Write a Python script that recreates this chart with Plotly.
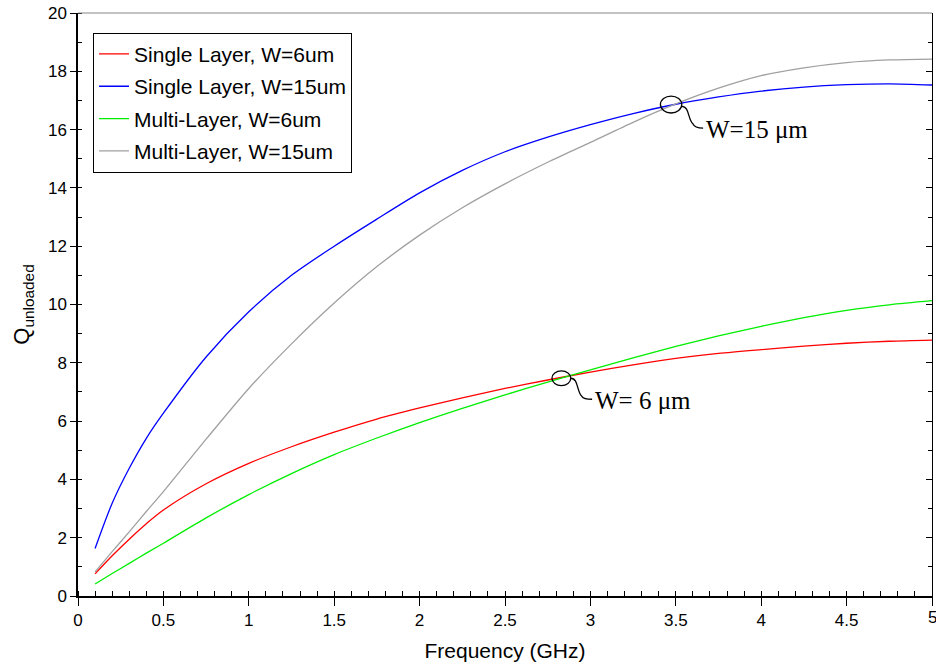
import plotly.graph_objects as go

freq = [0.1, 0.2, 0.3, 0.4, 0.5, 0.75, 1.0, 1.25, 1.5, 1.75, 2.0, 2.25, 2.5, 2.75, 3.0,
        3.25, 3.5, 3.75, 4.0, 4.25, 4.5, 4.75, 5.0]
single_6 = [0.76, 1.38, 1.95, 2.48, 2.95, 3.85, 4.55, 5.12, 5.62, 6.07, 6.45, 6.8, 7.12, 7.41, 7.68,
            7.93, 8.15, 8.32, 8.45, 8.57, 8.67, 8.74, 8.78]
single_15 = [1.63, 3.18, 4.38, 5.41, 6.27, 8.2, 9.75, 11.0, 12.0, 12.93, 13.83, 14.6, 15.24, 15.74, 16.17,
             16.55, 16.87, 17.12, 17.32, 17.46, 17.54, 17.57, 17.53]
multi_6 = [0.41, 0.77, 1.12, 1.47, 1.81, 2.68, 3.48, 4.2, 4.85, 5.42, 5.95, 6.44, 6.9, 7.34, 7.76,
           8.17, 8.56, 8.92, 9.25, 9.55, 9.8, 9.99, 10.13]
multi_15 = [0.83, 1.52, 2.2, 2.9, 3.58, 5.38, 7.12, 8.65, 10.05, 11.3, 12.38, 13.32, 14.14, 14.88, 15.56,
            16.25, 16.88, 17.42, 17.85, 18.12, 18.3, 18.39, 18.42]

names = ["Single Layer, W=6um", "Single Layer, W=15um", "Multi-Layer, W=6um", "Multi-Layer, W=15um"]
series = [single_6, single_15, multi_6, multi_15]
colors = ["#ff0000", "#0000ff", "#00ee00", "#a0a0a0"]

x_ticks = [0, 0.5, 1, 1.5, 2, 2.5, 3, 3.5, 4, 4.5]
x_ticklabels = ["0", "0.5", "1", "1.5", "2", "2.5", "3", "3.5", "4", "4.5"]
x_last_tick = 5
y_ticks = [0, 2, 4, 6, 8, 10, 12, 14, 16, 18, 20]

fig = go.Figure()
for i, (n, s, c) in enumerate(zip(names, series, colors)):
    fig.add_trace(go.Scatter(x=freq, y=s, name=n, mode="lines",
                             line=dict(color=c, width=1.3, shape="spline", smoothing=0.8),
                             legendgroup=f"g{i}"))

font = "Liberation Sans, Arial, sans-serif"
fig.update_layout(
    width=936, height=667,
    margin=dict(l=78, r=4, t=13, b=71),
    paper_bgcolor="white", plot_bgcolor="white",
    showlegend=True,
    legend=dict(x=0.0176, y=0.966, xanchor="left", yanchor="top",
                bordercolor="black", borderwidth=1, bgcolor="white",
                font=dict(family=font, size=21, color="black"),
                tracegroupgap=2, itemwidth=30),
    xaxis=dict(range=[0, 5], tickvals=x_ticks + [x_last_tick], ticktext=x_ticklabels + [""],
               showgrid=False, zeroline=False, showline=True, linecolor="black", linewidth=1.5,
               ticks="outside", ticklen=8, tickcolor="black",
               minor=dict(dtick=0.1, ticks="inside", ticklen=5, tickcolor="black", showgrid=False),
               tickfont=dict(family=font, size=17, color="black"),
               title=dict(text="Frequency (GHz)", font=dict(family=font, size=21, color="black"), standoff=14)),
    yaxis=dict(range=[0, 20], tickvals=y_ticks,
               showgrid=False, zeroline=False, showline=True, linecolor="black", linewidth=1.5,
               ticks="outside", ticklen=6, tickcolor="black",
               minor=dict(dtick=1, ticks="inside", ticklen=4, tickcolor="black", showgrid=False),
               tickfont=dict(family=font, size=17, color="black"),
               title=dict(text="Q<sub>unloaded</sub>", font=dict(family=font, size=22, color="black"), standoff=12)),
    yaxis2=dict(range=[0, 20], overlaying="y", side="right", showticklabels=False,
                showgrid=False, zeroline=False, showline=True, linecolor="black", linewidth=1.2,
                tickvals=y_ticks, ticks="inside", ticklen=6, tickcolor="black",
                minor=dict(dtick=1, ticks="inside", ticklen=4, tickcolor="black")),
)
fig.add_trace(go.Scatter(x=[0], y=[0], yaxis="y2", mode="markers", marker=dict(opacity=0),
                         showlegend=False, hoverinfo="skip"))

# last x tick label (at the right edge of the page)
fig.add_annotation(x=x_last_tick, y=0, xref="x", yref="y", text=str(x_last_tick), showarrow=False,
                   xanchor="center", yanchor="top", yshift=-10,
                   font=dict(family=font, size=17, color="black"))

# top border
fig.add_shape(type="line", xref="paper", yref="paper", x0=0, x1=1, y0=1, y1=1,
              line=dict(color="#888888", width=1.2))

# ellipses at crossing points
fig.add_shape(type="circle", xref="x", yref="y", x0=3.41, x1=3.535, y0=16.57, y1=17.15,
              line=dict(color="black", width=1.3))
fig.add_shape(type="circle", xref="x", yref="y", x0=2.775, x1=2.885, y0=7.22, y1=7.72,
              line=dict(color="black", width=1.3))
# curly leaders
fig.add_shape(type="path", xref="x", yref="y",
              path="M 3.535,16.8 C 3.58,16.8 3.57,16.35 3.6,16.2 C 3.61,16.05 3.64,16.05 3.66,16.05",
              line=dict(color="black", width=1.3))
fig.add_shape(type="path", xref="x", yref="y",
              path="M 2.885,7.47 C 2.93,7.47 2.92,7.0 2.95,6.85 C 2.96,6.75 2.99,6.75 3.01,6.75",
              line=dict(color="black", width=1.3))

fig.add_annotation(x=3.665, y=16.0, xref="x", yref="y", text="W=15 μm", showarrow=False,
                   xanchor="left", yanchor="middle",
                   font=dict(family="Liberation Serif, Times New Roman, serif", size=25, color="black"))
fig.add_annotation(x=3.015, y=6.7, xref="x", yref="y", text="W= 6 μm", showarrow=False,
                   xanchor="left", yanchor="middle",
                   font=dict(family="Liberation Serif, Times New Roman, serif", size=25, color="black"))

fig.write_html("out.html")
